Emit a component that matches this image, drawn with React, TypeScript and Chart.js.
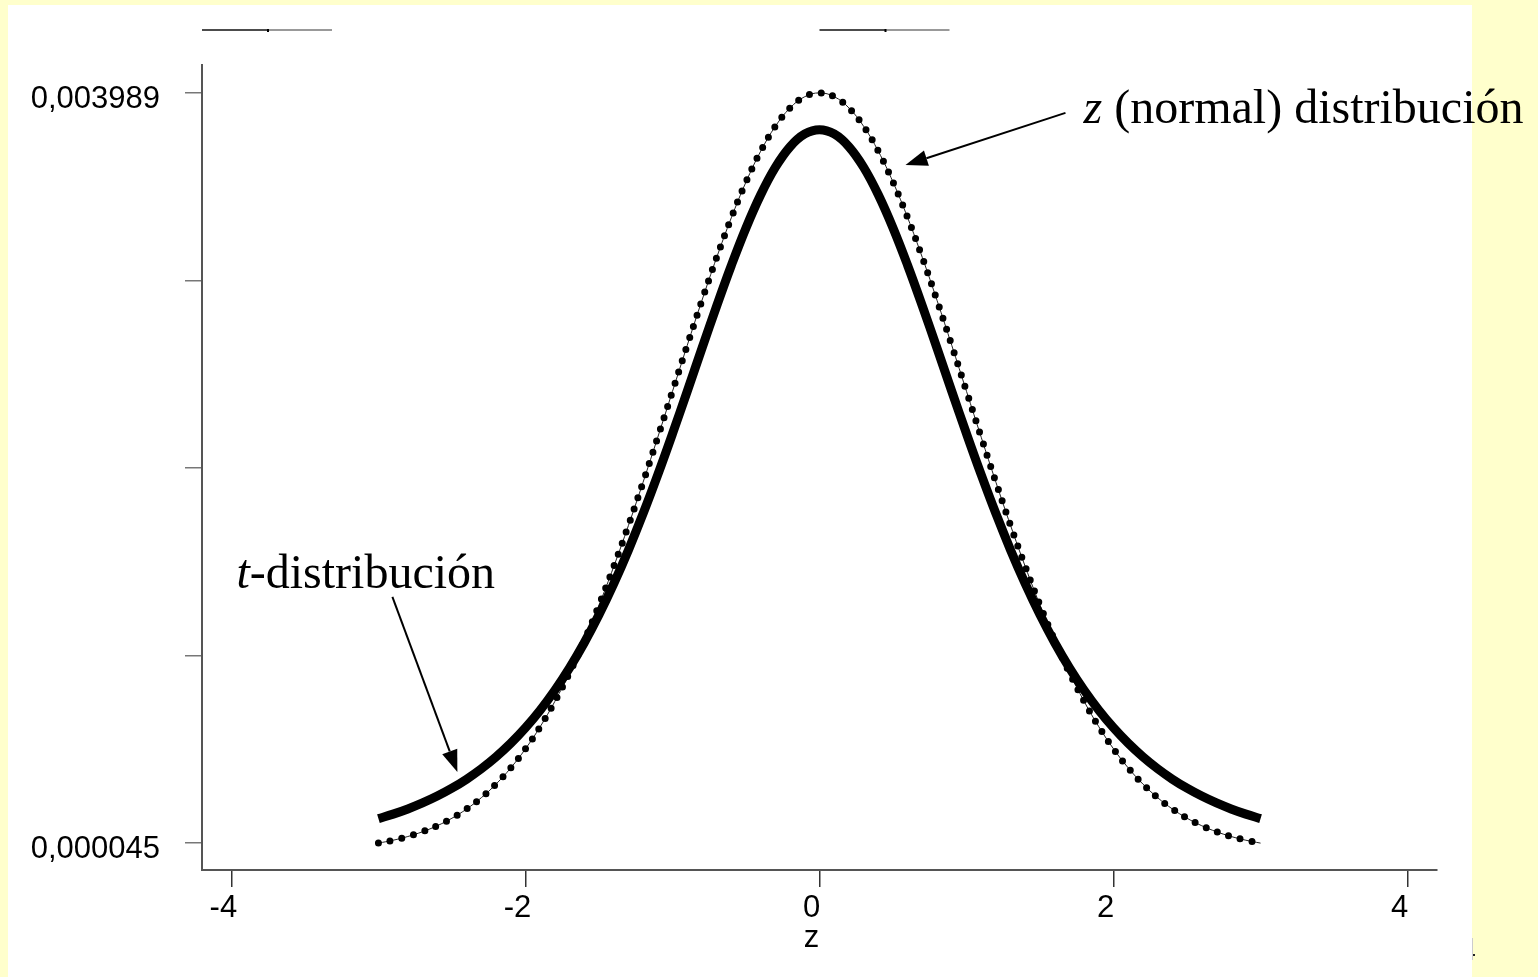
import React, { useEffect, useRef } from "react";
import { Chart, registerables } from "chart.js";

Chart.register(...registerables);

const zValues = [
  -3, -2.9, -2.8, -2.7, -2.6, -2.5, -2.4, -2.3, -2.2, -2.1,
  -2, -1.9, -1.8, -1.7, -1.6, -1.5, -1.4, -1.3, -1.2, -1.1,
  -1, -0.9, -0.8, -0.7, -0.6, -0.5, -0.4, -0.3, -0.2, -0.1,
  0,
  0.1, 0.2, 0.3, 0.4, 0.5, 0.6, 0.7, 0.8, 0.9, 1,
  1.1, 1.2, 1.3, 1.4, 1.5, 1.6, 1.7, 1.8, 1.9, 2,
  2.1, 2.2, 2.3, 2.4, 2.5, 2.6, 2.7, 2.8, 2.9, 3,
];

const normalValues = [
  0.00004432, 0.00005953, 0.00007915, 0.00010421, 0.00013583, 0.00017528, 0.00022395, 0.00028327, 0.00035475, 0.00043984,
  0.00053991, 0.00065616, 0.0007895, 0.00094049, 0.00110921, 0.00129518, 0.00149727, 0.00171369, 0.00194186, 0.00217852,
  0.00241971, 0.00266085, 0.00289692, 0.00312254, 0.00333225, 0.00352065, 0.0036827, 0.00381388, 0.00391043, 0.00396953,
  0.00398942,
  0.00396953, 0.00391043, 0.00381388, 0.0036827, 0.00352065, 0.00333225, 0.00312254, 0.00289692, 0.00266085, 0.00241971,
  0.00217852, 0.00194186, 0.00171369, 0.00149727, 0.00129518, 0.00110921, 0.00094049, 0.0007895, 0.00065616, 0.00053991,
  0.00043984, 0.00035475, 0.00028327, 0.00022395, 0.00017528, 0.00013583, 0.00010421, 0.00007915, 0.00005953, 0.00004432,
];

const tValues = [
  0.00017292, 0.00019677, 0.00022416, 0.00025561, 0.00029176, 0.00033326, 0.00038083, 0.00043547, 0.00049799, 0.00056942,
  0.00065091, 0.00074344, 0.00084815, 0.00096607, 0.0010982, 0.00124519, 0.00140743, 0.00158481, 0.00177661, 0.0019814,
  0.0021968, 0.00241944, 0.00264486, 0.00286765, 0.00308143, 0.00327919, 0.00345377, 0.00359825, 0.0037064, 0.00377338,
  0.00379607,
  0.00377338, 0.0037064, 0.00359825, 0.00345377, 0.00327919, 0.00308143, 0.00286765, 0.00264486, 0.00241944, 0.0021968,
  0.0019814, 0.00177661, 0.00158481, 0.00140743, 0.00124519, 0.0010982, 0.00096607, 0.00084815, 0.00074344, 0.00065091,
  0.00056942, 0.00049799, 0.00043547, 0.00038083, 0.00033326, 0.00029176, 0.00025561, 0.00022416, 0.00019677, 0.00017292,
];

const xTicks = [-4, -2, 0, 2, 4];
const xTickLabels = ["-4", "-2", "0", "2", "4"];
const yTicks = [0.000045, 0.001031, 0.002017, 0.003003, 0.003989];
const yTickLabels = ["0,000045", "", "", "", "0,003989"];
const xTitle = "z";

const xMin = -4.2;
const xMax = 4.2;
const yMin = -0.000097;
const yMax = 0.004136;

// annotation anchors in data coordinates
const annotations = [
  {
    parts: [
      { text: "z", italic: true },
      { text: " (normal) distribución", italic: false },
    ],
    textAt: [1.796, 0.003831],
    from: [1.673, 0.003884],
    to: [0.585, 0.00361],
  },
  {
    parts: [
      { text: "t", italic: true },
      { text: "-distribución", italic: false },
    ],
    textAt: [-3.966, 0.001386],
    from: [-2.905, 0.001339],
    to: [-2.463, 0.000418],
  },
];

const SANS = "'Liberation Sans', Arial, sans-serif";
const SERIF = "'Liberation Serif', 'Times New Roman', serif";

const overlayPlugin = {
  id: "overlay",
  afterDraw(chart: any) {
    const ctx = chart.ctx as CanvasRenderingContext2D;
    const xs = chart.scales.x;
    const ys = chart.scales.y;
    const area = chart.chartArea;
    ctx.save();

    // decorative short lines at top
    const drawTopLine = (x0: number) => {
      ctx.lineWidth = 1.5;
      ctx.strokeStyle = "#111";
      ctx.beginPath();
      ctx.moveTo(x0, 30);
      ctx.lineTo(x0 + 66, 30);
      ctx.stroke();
      ctx.strokeStyle = "#777";
      ctx.beginPath();
      ctx.moveTo(x0 + 66, 30);
      ctx.lineTo(x0 + 130, 30);
      ctx.stroke();
      ctx.fillStyle = "#000";
      ctx.fillRect(x0 + 65, 29, 2, 3);
    };
    drawTopLine(area.left);
    drawTopLine(xs.getPixelForValue(0));

    // x tick labels
    ctx.fillStyle = "#000";
    ctx.font = `31px ${SANS}`;
    ctx.textAlign = "center";
    ctx.textBaseline = "alphabetic";
    xTicks.forEach((v, i) => {
      ctx.fillText(xTickLabels[i], xs.getPixelForValue(v) - 8, area.bottom + 47);
    });
    // x title
    ctx.fillText(xTitle, (area.left + area.right) / 2 - 8, area.bottom + 77);

    // y tick labels
    ctx.font = `31px ${SANS}`;
    ctx.textAlign = "right";
    yTicks.forEach((v, i) => {
      if (yTickLabels[i]) ctx.fillText(yTickLabels[i], area.left - 42, ys.getPixelForValue(v) + 15);
    });

    // annotations
    annotations.forEach((a) => {
      const fx = xs.getPixelForValue(a.from[0]);
      const fy = ys.getPixelForValue(a.from[1]);
      const tx = xs.getPixelForValue(a.to[0]);
      const ty = ys.getPixelForValue(a.to[1]);
      const ang = Math.atan2(ty - fy, tx - fx);
      const headLen = 22;
      const headHalf = 8;
      const bx = tx - Math.cos(ang) * headLen;
      const by = ty - Math.sin(ang) * headLen;
      ctx.strokeStyle = "#000";
      ctx.lineWidth = 2;
      ctx.beginPath();
      ctx.moveTo(fx, fy);
      ctx.lineTo(bx, by);
      ctx.stroke();
      ctx.fillStyle = "#000";
      ctx.beginPath();
      ctx.moveTo(tx, ty);
      ctx.lineTo(bx + Math.sin(ang) * headHalf, by - Math.cos(ang) * headHalf);
      ctx.lineTo(bx - Math.sin(ang) * headHalf, by + Math.cos(ang) * headHalf);
      ctx.closePath();
      ctx.fill();

      let x = xs.getPixelForValue(a.textAt[0]);
      const y = ys.getPixelForValue(a.textAt[1]);
      ctx.textAlign = "left";
      ctx.textBaseline = "alphabetic";
      a.parts.forEach((p) => {
        ctx.font = `${p.italic ? "italic " : ""}48px ${SERIF}`;
        ctx.fillText(p.text, x, y);
        x += ctx.measureText(p.text).width;
      });
    });

    // tiny mark at the right edge of the white panel
    ctx.fillStyle = "#222";
    ctx.fillRect(1472, 954, 3, 2);
    ctx.fillStyle = "#ccc";
    ctx.fillRect(1472, 938, 1, 22);

    ctx.restore();
  },
};

export default function App() {
  const ref = useRef<HTMLCanvasElement>(null);

  useEffect(() => {
    const toPoints = (vals: number[]) => zValues.map((z, i) => ({ x: z, y: vals[i] }));
    const chart = new Chart(ref.current as HTMLCanvasElement, {
      type: "line",
      data: {
        datasets: [
          {
            label: "t-distribución",
            data: toPoints(tValues),
            borderColor: "#000",
            borderWidth: 9,
            pointRadius: 0,
            tension: 0.4,
            fill: false,
          },
          {
            label: "z (normal) dots",
            data: toPoints(normalValues),
            borderColor: "#000",
            borderWidth: 7,
            borderDash: [0, 12],
            borderCapStyle: "round",
            pointRadius: 0,
            tension: 0.4,
            fill: false,
          },
          {
            label: "z (normal)",
            data: toPoints(normalValues),
            borderColor: "#222",
            borderWidth: 1,
            pointRadius: 0,
            tension: 0.4,
            fill: false,
          },
        ],
      },
      options: {
        responsive: false,
        animation: false,
        devicePixelRatio: 1,
        layout: { padding: { top: 65, right: 101, left: 0, bottom: 0 } },
        plugins: {
          legend: { display: false },
          tooltip: { enabled: false },
        },
        scales: {
          x: {
            type: "linear",
            min: xMin,
            max: xMax,
            afterBuildTicks: (s: any) => {
              s.ticks = xTicks.map((v) => ({ value: v }));
            },
            afterFit: (s: any) => {
              s.height = 107;
            },
            ticks: { display: false },
            grid: {
              drawOnChartArea: false,
              drawTicks: true,
              tickLength: 17,
              color: "#333",
              lineWidth: 1.5,
            },
            border: { display: true, color: "#555", width: 2 },
          },
          y: {
            type: "linear",
            min: yMin,
            max: yMax,
            afterBuildTicks: (s: any) => {
              s.ticks = yTicks.map((v) => ({ value: v }));
            },
            afterFit: (s: any) => {
              s.width = 202;
            },
            ticks: { display: false },
            grid: {
              drawOnChartArea: false,
              drawTicks: true,
              tickLength: 17,
              color: "#777",
              lineWidth: 1.5,
            },
            border: { display: true, color: "#555", width: 2 },
          },
        },
      } as any,
      plugins: [overlayPlugin],
    });
    return () => chart.destroy();
  }, []);

  return (
    <div
      style={{
        position: "fixed",
        left: 0,
        top: 0,
        width: 1538,
        height: 977,
        background: "#FFFFCC",
        overflow: "hidden",
      }}
    >
      <div style={{ position: "absolute", left: 8, top: 5, width: 1464, height: 972, background: "#FFFFFF" }} />
      <canvas
        ref={ref}
        width={1538}
        height={977}
        style={{ position: "absolute", left: 0, top: 0, width: 1538, height: 977 }}
      />
    </div>
  );
}
